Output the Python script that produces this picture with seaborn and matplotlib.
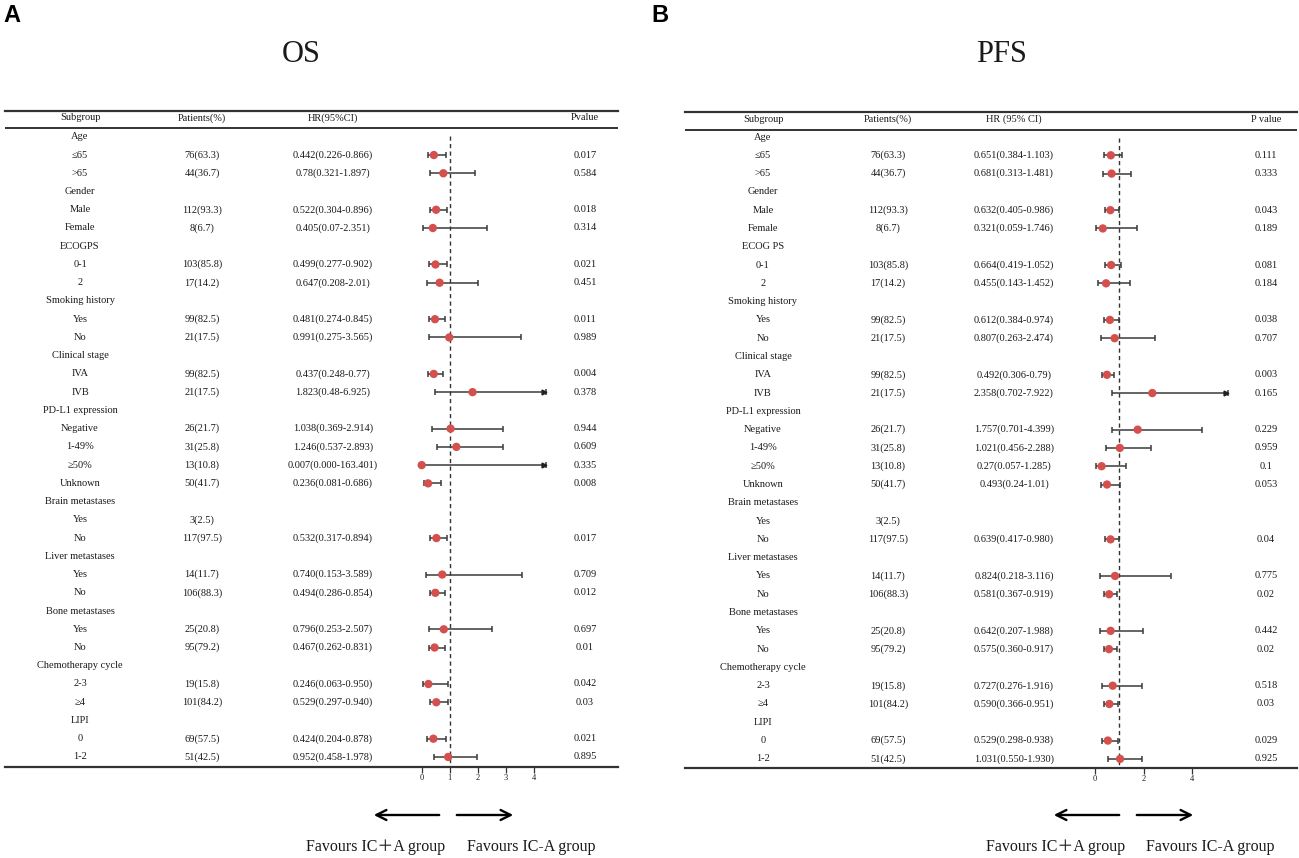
import numpy as np
import pandas as pd
import matplotlib
matplotlib.use("Agg")
import matplotlib.pyplot as plt
import seaborn as sns
from matplotlib import transforms

sns.set_theme(style="white")
plt.rcParams['font.family'] = ['Liberation Serif', 'DejaVu Serif']

# ---------------- data ----------------
row_labels = ["Age", "≤65", ">65", "Gender", "Male", "Female", "ECOGPS", "0-1", "2",
              "Smoking history", "Yes", "No", "Clinical stage", "IVA", "IVB",
              "PD-L1 expression", "Negative", "1-49%", "≥50%", "Unknown",
              "Brain metastases", "Yes", "No", "Liver metastases", "Yes", "No",
              "Bone metastases", "Yes", "No", "Chemotherapy cycle", "2-3", "≥4",
              "LIPI", "0", "1-2"]
pfs_row_labels = [("ECOG PS" if r == "ECOGPS" else r) for r in row_labels]

patients = ["", "76(63.3)", "44(36.7)", "", "112(93.3)", "8(6.7)", "", "103(85.8)", "17(14.2)",
            "", "99(82.5)", "21(17.5)", "", "99(82.5)", "21(17.5)", "", "26(21.7)", "31(25.8)",
            "13(10.8)", "50(41.7)", "", "3(2.5)", "117(97.5)", "", "14(11.7)", "106(88.3)", "",
            "25(20.8)", "95(79.2)", "", "19(15.8)", "101(84.2)", "", "69(57.5)", "51(42.5)"]

os_hr_ci = ["", "0.442(0.226-0.866)", "0.78(0.321-1.897)", "", "0.522(0.304-0.896)",
            "0.405(0.07-2.351)", "", "0.499(0.277-0.902)", "0.647(0.208-2.01)", "",
            "0.481(0.274-0.845)", "0.991(0.275-3.565)", "", "0.437(0.248-0.77)",
            "1.823(0.48-6.925)", "", "1.038(0.369-2.914)", "1.246(0.537-2.893)",
            "0.007(0.000-163.401)", "0.236(0.081-0.686)", "", "", "0.532(0.317-0.894)", "",
            "0.740(0.153-3.589)", "0.494(0.286-0.854)", "", "0.796(0.253-2.507)",
            "0.467(0.262-0.831)", "", "0.246(0.063-0.950)", "0.529(0.297-0.940)", "",
            "0.424(0.204-0.878)", "0.952(0.458-1.978)"]
os_p = ["", "0.017", "0.584", "", "0.018", "0.314", "", "0.021", "0.451", "", "0.011", "0.989",
        "", "0.004", "0.378", "", "0.944", "0.609", "0.335", "0.008", "", "", "0.017", "",
        "0.709", "0.012", "", "0.697", "0.01", "", "0.042", "0.03", "", "0.021", "0.895"]

pfs_hr_ci = ["", "0.651(0.384-1.103)", "0.681(0.313-1.481)", "", "0.632(0.405-0.986)",
             "0.321(0.059-1.746)", "", "0.664(0.419-1.052)", "0.455(0.143-1.452)", "",
             "0.612(0.384-0.974)", "0.807(0.263-2.474)", "", "0.492(0.306-0.79)",
             "2.358(0.702-7.922)", "", "1.757(0.701-4.399)", "1.021(0.456-2.288)",
             "0.27(0.057-1.285)", "0.493(0.24-1.01)", "", "", "0.639(0.417-0.980)", "",
             "0.824(0.218-3.116)", "0.581(0.367-0.919)", "", "0.642(0.207-1.988)",
             "0.575(0.360-0.917)", "", "0.727(0.276-1.916)", "0.590(0.366-0.951)", "",
             "0.529(0.298-0.938)", "1.031(0.550-1.930)"]
pfs_p = ["", "0.111", "0.333", "", "0.043", "0.189", "", "0.081", "0.184", "", "0.038", "0.707",
         "", "0.003", "0.165", "", "0.229", "0.959", "0.1", "0.053", "", "", "0.04", "",
         "0.775", "0.02", "", "0.442", "0.02", "", "0.518", "0.03", "", "0.029", "0.925"]

os_ticks = [0, 1, 2, 3, 4]
pfs_ticks = [0, 2, 4]


def parse(ci_list):
    hr, lo, hi = [], [], []
    for s in ci_list:
        if not s:
            hr.append(np.nan); lo.append(np.nan); hi.append(np.nan)
            continue
        a, b = s.split("(")
        l, h = b.rstrip(")").split("-")
        hr.append(float(a)); lo.append(float(l)); hi.append(float(h))
    return pd.DataFrame({"hr": hr, "lo": lo, "hi": hi, "row": np.arange(len(ci_list))})


W, H = 1299, 858
fig = plt.figure(figsize=(W / 100, H / 100), dpi=100)
RED = "#d4504f"
LINE = "#333333"
TXT = "#1a1a1a"
FS = 7.5

panels = [
    dict(title="OS", letter="A", letter_x=3, labels=row_labels, ci=os_hr_ci, p=os_p,
         ticks=os_ticks, x0=5, x1=618, zero=421.5, unit=28.0, clip=4.45,
         ytop=111, yhead=118, yhline=128, yrow0=136.8, step=18.24, ybot=767,
         cols=(80, 202, 333, 585), hdr=("Subgroup", "Patients(%)", "HR(95%CI)", "Pvalue"),
         title_x=301, arrows=((442, 371), (454, 516)), fav=(376, 531)),
    dict(title="PFS", letter="B", letter_x=651, labels=pfs_row_labels, ci=pfs_hr_ci, p=pfs_p,
         ticks=pfs_ticks, x0=685, x1=1297, zero=1095.0, unit=24.3, clip=5.47,
         ytop=112, yhead=119, yhline=130, yrow0=137.0, step=18.29, ybot=768,
         cols=(763, 888, 1014, 1266), hdr=("Subgroup", "Patients(%)", "HR (95% CI)", "P value"),
         title_x=1001, arrows=((1122, 1051), (1134, 1196)), fav=(1056, 1210)),
]

for P in panels:
    ax = fig.add_axes([P["x0"] / W, (H - P["ybot"]) / H,
                       (P["x1"] - P["x0"]) / W, (P["ybot"] - P["ytop"]) / H])
    ax.set_facecolor("none")
    xl = (P["x0"] - P["zero"]) / P["unit"]
    xr = (P["x1"] - P["zero"]) / P["unit"]
    ax.set_xlim(xl, xr)
    yt = (P["ytop"] - P["yrow0"]) / P["step"]
    yb = (P["ybot"] - P["yrow0"]) / P["step"]
    ax.set_ylim(yb, yt)
    for s in ["left", "right"]:
        ax.spines[s].set_visible(False)
    for s in ["top", "bottom"]:
        ax.spines[s].set_color(LINE)
        ax.spines[s].set_linewidth(1.6)
    ax.set_yticks([])
    ax.set_xticks(P["ticks"])
    ax.set_xticklabels([str(t) for t in P["ticks"]], fontsize=6, color=TXT)
    ax.tick_params(axis="x", direction="out", length=4, width=0.9, color=LINE, pad=1,
                   bottom=True)
    ax.grid(False)

    # header line
    yh = (P["yhline"] - P["yrow0"]) / P["step"]
    ax.axhline(yh, color=LINE, lw=1.4)
    # reference dashed line
    ax.vlines(1, yh + 0.45, yb, colors=LINE, linestyles=(0, (3, 2.4)), lw=1.0)

    df = parse(P["ci"])
    d = df.dropna()
    hi_c = np.minimum(d["hi"].values, P["clip"])
    ax.hlines(d["row"], d["lo"], hi_c, colors="#3a3a3a", lw=1.1, zorder=2)
    ax.plot(d["lo"], d["row"], ls="none", marker="|", ms=5, mew=1.1, color="#3a3a3a", zorder=2)
    ax.plot(hi_c, d["row"], ls="none", marker="|", ms=5, mew=1.1, color="#3a3a3a", zorder=2)
    clipped = d[d["hi"] > P["clip"]]
    if len(clipped):
        ax.plot(np.full(len(clipped), P["clip"] - 0.06), clipped["row"], ls="none",
                marker=">", ms=3.5, color="#222222", zorder=2)
    sns.scatterplot(data=d, x="hr", y="row", ax=ax, color=RED, s=36, edgecolor="none",
                    zorder=3, legend=False)
    ax.set_xlabel("")
    ax.set_ylabel("")
    ax.set_ylim(yb, yt)

    tr = transforms.blended_transform_factory(fig.transFigure, ax.transData)
    yhd = (P["yhead"] - P["yrow0"]) / P["step"]
    for cx, h in zip(P["cols"], P["hdr"]):
        ax.text(cx / W, yhd, h, transform=tr, ha="center", va="center", fontsize=FS, color=TXT)
    for i, lab in enumerate(P["labels"]):
        ax.text(P["cols"][0] / W, i, lab, transform=tr, ha="center", va="center",
                fontsize=FS, color=TXT)
        if patients[i]:
            ax.text(P["cols"][1] / W, i, patients[i], transform=tr, ha="center",
                    va="center", fontsize=FS, color=TXT)
        if P["ci"][i]:
            ax.text(P["cols"][2] / W, i, P["ci"][i], transform=tr, ha="center",
                    va="center", fontsize=FS, color=TXT)
        if P["p"][i]:
            ax.text(P["cols"][3] / W, i, P["p"][i], transform=tr, ha="center",
                    va="center", fontsize=FS, color=TXT)

    # title and panel letter
    fig.text(P["title_x"] / W, (H - 54) / H, P["title"], ha="center", va="center",
             fontsize=22, color=TXT)
    fig.text(P["letter_x"] / W, (H - 4) / H, P["letter"], ha="left", va="top",
             fontsize=17, fontweight="bold", family="Liberation Sans", color="black")

    # arrows
    for (xa, xb) in P["arrows"]:
        fig.add_artist(matplotlib.patches.FancyArrowPatch(
            (xa / W, (H - 815) / H), (xb / W, (H - 815) / H), transform=fig.transFigure,
            arrowstyle="->", mutation_scale=18, lw=1.7, color="black"))
    fig.text(P["fav"][0] / W, (H - 847) / H, "Favours IC＋A group", ha="center", va="center",
             fontsize=11.5, family=["Liberation Serif", "Noto Sans CJK SC"], color=TXT)
    fig.text(P["fav"][1] / W, (H - 847) / H, "Favours IC-A group", ha="center", va="center",
             fontsize=11.5, color=TXT)

fig.savefig("out.png", dpi=100, facecolor="white")
